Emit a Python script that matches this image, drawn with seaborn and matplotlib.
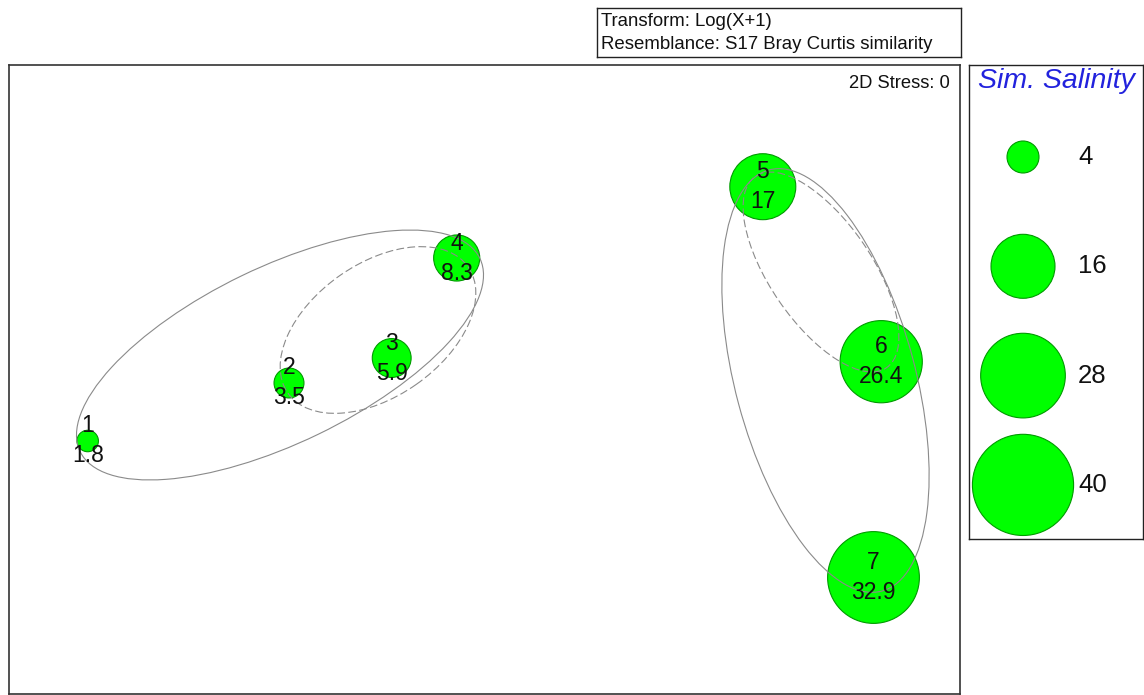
import matplotlib
matplotlib.use("Agg")
import matplotlib.pyplot as plt
import seaborn as sns
import pandas as pd
from matplotlib.patches import Ellipse

# nMDS ordination of the 7 samples (2D Stress: 0)
samples = [1, 2, 3, 4, 5, 6, 7]
mds_x = [-3.968, -1.955, -0.928, -0.278, 2.783, 3.967, 3.890]
mds_y = [-0.615, -0.035, 0.215, 1.215, 1.928, 0.178, -1.980]
salinity = [1.8, 3.5, 5.9, 8.3, 17, 26.4, 32.9]

# similarity contour overlays: centre x, centre y, width, height, angle
contour_solid = [(-2.045, 0.245, 4.44, 1.76, 25.8), (3.41, -0.01, 4.36, 1.80, 105.0)]
contour_dashed = [(-1.065, 0.495, 2.20, 1.33, 35.0), (3.365, 1.075, 2.32, 1.02, -55.6)]

legend_values = [4, 16, 28, 40]

df = pd.DataFrame({"Sample": samples, "x": mds_x, "y": mds_y, "Salinity": salinity})

sns.set_style("white")
plt.rcParams["font.family"] = ["Liberation Sans", "DejaVu Sans"]

W, H = 1144, 695
fig = plt.figure(figsize=(W / 100, H / 100), dpi=100)


def px_axes(x0, y0, x1, y1):
    return fig.add_axes([x0 / W, 1 - y1 / H, (x1 - x0) / W, (y1 - y0) / H])


# bubble area proportional to salinity (same scale in plot and key)
size_kw = dict(size_norm=(0, 40), sizes=(0, 132.7 * 40))
green = "#00ff00"
edge = "#009a00"

ax = px_axes(9, 65, 960, 694)
sns.scatterplot(data=df, x="x", y="y", size="Salinity", color=green, edgecolor=edge,
                linewidth=0.8, alpha=1, legend=False, ax=ax, zorder=2, **size_kw)
for cx, cy, w, h, a in contour_solid:
    ax.add_patch(Ellipse((cx, cy), w, h, angle=a, fill=False, ec="#8a8a8a", lw=0.8, zorder=3))
for cx, cy, w, h, a in contour_dashed:
    ax.add_patch(Ellipse((cx, cy), w, h, angle=a, fill=False, ec="#8a8a8a", lw=0.8,
                         ls=(0, (7, 3)), zorder=3))
for s, x, y, v in zip(samples, mds_x, mds_y, salinity):
    ax.text(x, y + 0.15, str(s), ha="center", va="center", fontsize=16.5, color="#111111", zorder=4)
    ax.text(x, y - 0.15, f"{v:g}", ha="center", va="center", fontsize=16.5, color="#111111", zorder=4)
ax.set_xlim(-4.755, 4.755)
ax.set_ylim(-3.145, 3.145)
ax.set_xticks([])
ax.set_yticks([])
ax.set_xlabel("")
ax.set_ylabel("")
for sp in ax.spines.values():
    sp.set_color("#333333")
    sp.set_linewidth(1.2)
ax.text(0.989, 0.971, "2D Stress: 0", transform=ax.transAxes, ha="right", va="center",
        fontsize=13.2, color="#111111")

# bubble key
lax = px_axes(969, 65, 1143, 539)
key = pd.DataFrame({"x": [1023] * len(legend_values),
                    "y": [157 + 109.3 * i for i in range(len(legend_values))],
                    "Salinity": legend_values})
sns.scatterplot(data=key, x="x", y="y", size="Salinity", color=green, edgecolor=edge,
                linewidth=0.8, alpha=1, legend=False, ax=lax, clip_on=False, **size_kw)
for y, v in zip(key["y"], legend_values):
    lax.text(1078, y, str(v), ha="left", va="center", fontsize=18.5, color="#111111")
lax.text(1056, 81, "Sim. Salinity", ha="center", va="center", fontsize=20.5,
         style="italic", color="#2222dd")
lax.set_xlim(969, 1143)
lax.set_ylim(539, 65)
lax.set_xticks([])
lax.set_yticks([])
lax.set_xlabel("")
lax.set_ylabel("")
for sp in lax.spines.values():
    sp.set_color("#222222")
    sp.set_linewidth(1.0)

# transform / resemblance box
tax = px_axes(597, 8, 961, 57)
tax.set_xticks([])
tax.set_yticks([])
for sp in tax.spines.values():
    sp.set_color("#222222")
    sp.set_linewidth(1.0)
tax.text(0.012, 0.72, "Transform: Log(X+1)", transform=tax.transAxes, ha="left", va="center",
         fontsize=13.4, color="#111111")
tax.text(0.012, 0.26, "Resemblance: S17 Bray Curtis similarity", transform=tax.transAxes,
         ha="left", va="center", fontsize=13.4, color="#111111")

fig.savefig("out.png", dpi=100)
